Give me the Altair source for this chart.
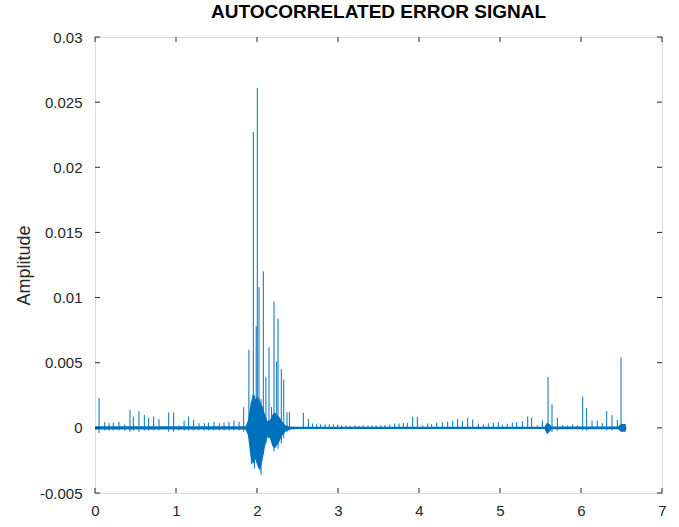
import altair as alt
import pandas as pd

# ---- spikes: time (s), upper value, lower value ----
spike_t = [
    0.05, 0.12, 0.173, 0.226, 0.296, 0.366, 0.432, 0.473, 0.543, 0.609, 0.663,
    0.724, 0.79, 0.91, 0.971, 1.037, 1.10, 1.156, 1.218, 1.284, 1.35, 1.40,
    1.469, 1.535, 1.593, 1.654, 1.716, 1.778, 1.836,
    1.90, 1.93, 1.955, 1.97, 1.99, 2.004, 2.025, 2.05, 2.078, 2.11, 2.148,
    2.18, 2.21, 2.243, 2.26, 2.30, 2.33, 2.37, 2.40,
    2.572, 2.634, 2.687, 2.737, 2.786, 2.84, 2.893, 2.942, 2.996, 3.045, 3.10,
    3.15, 3.21, 3.26, 3.31, 3.37, 3.42, 3.47, 3.53, 3.58, 3.64, 3.70, 3.753,
    3.806, 3.856, 3.922, 3.979, 4.045, 4.107, 4.156, 4.218, 4.288, 4.354,
    4.416, 4.477, 4.535, 4.601, 4.663, 4.733, 4.794, 4.856, 4.918, 4.979,
    5.029, 5.09, 5.152, 5.206, 5.276, 5.342, 5.391, 5.461, 5.523,
    5.593, 5.642, 5.708, 5.774, 5.836, 5.898, 5.955, 6.021, 6.07, 6.136,
    6.201, 6.263, 6.317, 6.383, 6.449, 6.494,
]
spike_hi = [
    0.0023, 0.00044, 0.00036, 0.00041, 0.00046, 0.00026, 0.00138, 0.00087,
    0.00128, 0.0010, 0.00077, 0.00087, 0.00067, 0.00118, 0.00118, 0.00018,
    0.00056, 0.00087, 0.00061, 0.00036, 0.00036, 0.00041, 0.00046, 0.00036,
    0.00041, 0.00046, 0.00056, 0.00046, 0.00159,
    0.0060, 0.0020, 0.0227, 0.0025, 0.0078, 0.0261, 0.0108, 0.0022, 0.0120,
    0.0039, 0.0062, 0.0016, 0.0097, 0.0051, 0.0084, 0.0045, 0.0037, 0.0012,
    0.0012,
    0.00115, 0.00069, 0.00033, 0.00028, 0.00028, 0.00028, 0.00028, 0.00028,
    0.00026, 0.00018, 0.0002, 0.00015, 0.0002, 0.00015, 0.0002, 0.00018,
    0.0002, 0.00018, 0.0002, 0.00022, 0.00025, 0.00033, 0.00033, 0.00038,
    0.00038, 0.00084, 0.00084, 0.00018, 0.00033, 0.00028, 0.00038, 0.00044,
    0.00049, 0.00054, 0.00069, 0.00054, 0.00077, 0.00064, 0.00033, 0.00026,
    0.00033, 0.00038, 0.00044, 0.0002, 0.00031, 0.00041, 0.00044, 0.00051,
    0.00087, 0.00077, 0.00018, 0.00056,
    0.0039, 0.0018, 0.00077, 0.0002, 0.00018, 0.00026, 0.0002, 0.0024,
    0.0015, 0.00056, 0.00056, 0.00036, 0.00128, 0.00097, 0.0006, 0.0054,
]
spike_lo = [
    -0.0004, -0.0002, -0.0002, -0.0002, -0.0002, -0.0002, -0.0003, -0.0002,
    -0.0003, -0.0002, -0.0002, -0.0002, -0.0002, -0.0003, -0.0003, -0.0002,
    -0.0002, -0.0002, -0.0002, -0.0002, -0.0002, -0.0002, -0.0002, -0.0002,
    -0.0002, -0.0002, -0.0002, -0.0002, -0.0003,
    -0.0008, -0.0028, -0.0025, -0.0031, -0.0020, -0.0022, -0.0030, -0.0036,
    -0.0020, -0.0012, -0.0008, -0.0010, -0.0018, -0.0012, -0.0016, -0.0012,
    -0.0008, -0.0003, -0.0002,
    -0.0001, -0.0001, -0.0001, -0.0001, -0.0001, -0.0001, -0.0001, -0.0001,
    -0.0001, -0.0001, -0.0001, -0.0001, -0.0001, -0.0001, -0.0001, -0.0001,
    -0.0001, -0.0001, -0.0001, -0.0001, -0.0001, -0.0001, -0.0001, -0.0001,
    -0.0001, -0.0001, -0.0001, -0.0001, -0.0001, -0.0001, -0.0001, -0.0001,
    -0.0001, -0.0001, -0.0001, -0.0001, -0.0001, -0.0001, -0.0001, -0.0001,
    -0.0001, -0.0001, -0.0001, -0.0001, -0.0001, -0.0001, -0.0001, -0.0001,
    -0.0001, -0.0001, -0.0001, -0.0001,
    -0.0004, -0.0003, -0.0002, -0.0001, -0.0001, -0.0001, -0.0001, -0.0002,
    -0.0002, -0.0001, -0.0001, -0.0001, -0.0002, -0.0002, -0.0001, -0.0002,
]

# ---- dense noise band around zero (envelope) ----
env_t = [0.0, 1.86, 1.89, 1.92, 1.95, 1.98, 2.01, 2.04, 2.07, 2.10, 2.13,
         2.16, 2.19, 2.22, 2.25, 2.28, 2.31, 2.35, 2.40, 2.50, 5.55, 5.58,
         5.61, 5.64, 6.46, 6.49, 6.55, 6.56]
env_hi = [0.00012, 0.00012, 0.0006, 0.0018, 0.0026, 0.0022, 0.0024, 0.0020,
          0.0016, 0.0010, 0.0005, 0.0006, 0.0010, 0.0012, 0.0010, 0.0008,
          0.0005, 0.0002, 0.0001, 0.00008, 0.00008, 0.0004, 0.0003, 0.0001,
          0.0001, 0.0003, 0.0003, 0.0]
env_lo = [-0.00012, -0.00012, -0.0006, -0.0022, -0.0028, -0.0024, -0.0030,
          -0.0033, -0.0024, -0.0014, -0.0007, -0.0008, -0.0014, -0.0016,
          -0.0013, -0.0010, -0.0006, -0.0003, -0.00012, -0.00008, -0.00008,
          -0.0005, -0.0003, -0.0001, -0.0001, -0.0003, -0.0003, 0.0]

x_ticks = [0, 1, 2, 3, 4, 5, 6, 7]
y_ticks = [-0.005, 0.0, 0.005, 0.01, 0.015, 0.02, 0.025, 0.03]

spikes = pd.DataFrame({"t": spike_t, "hi": spike_hi, "lo": spike_lo})
env = pd.DataFrame({"t": env_t, "hi": env_hi, "lo": env_lo})
xt = pd.DataFrame({"v": x_ticks})
yt = pd.DataFrame({"v": y_ticks})

W, H = 567, 456
TL = 5  # inward tick length (px)

BLUE = "#0072BD"
AX = "#262626"
FONT = "Liberation Sans"

xs = alt.Scale(domain=[0, 7], nice=False, zero=False)
ys = alt.Scale(domain=[-0.005, 0.03], nice=False, zero=False)

ylab = "replace(datum.value == 0 ? '0' : format(datum.value, '.3~f'), '\u2212', '-')"

area = alt.Chart(env).mark_area(color=BLUE, opacity=1).encode(
    x=alt.X("t:Q", scale=xs, axis=alt.Axis(
        values=x_ticks, format="d", ticks=False, domain=False, grid=False,
        labelFlush=False, labelPadding=10, labelFontSize=15, labelFont=FONT,
        labelColor=AX, title=None)),
    y=alt.Y("lo:Q", scale=ys, axis=alt.Axis(
        values=y_ticks, labelExpr=ylab, ticks=False, domain=False, grid=False,
        labelFlush=False, labelPadding=13, labelFontSize=15, labelFont=FONT,
        labelColor=AX, title="Amplitude", titleFont=FONT, titleFontSize=18,
        titleFontWeight="normal", titleColor=AX, titlePadding=6)),
    y2="hi:Q",
)

rules = alt.Chart(spikes).mark_rule(color=BLUE, strokeWidth=1).encode(
    x=alt.X("t:Q", scale=xs),
    y=alt.Y("lo:Q", scale=ys),
    y2="hi:Q",
)

tick_bottom = alt.Chart(xt).mark_rule(color=AX, strokeWidth=1).encode(
    x=alt.X("v:Q", scale=xs), y=alt.value(H), y2=alt.value(H - TL))
tick_top = alt.Chart(xt).mark_rule(color=AX, strokeWidth=1).encode(
    x=alt.X("v:Q", scale=xs), y=alt.value(0), y2=alt.value(TL))
tick_left = alt.Chart(yt).mark_rule(color=AX, strokeWidth=1).encode(
    y=alt.Y("v:Q", scale=ys), x=alt.value(0), x2=alt.value(TL))
tick_right = alt.Chart(yt).mark_rule(color=AX, strokeWidth=1).encode(
    y=alt.Y("v:Q", scale=ys), x=alt.value(W), x2=alt.value(W - TL))

chart = alt.layer(
    area, rules, tick_bottom, tick_top, tick_left, tick_right
).properties(
    width=W,
    height=H,
    title=alt.TitleParams("AUTOCORRELATED ERROR SIGNAL", font=FONT,
                          fontSize=19, fontWeight="bold", color="black",
                          anchor="middle", offset=8),
    autosize=alt.AutoSizeParams(type="none"),
    padding={"left": 95, "top": 37, "right": 17, "bottom": 34},
).configure_view(
    stroke=AX, strokeWidth=1
).configure(background="white")

chart.save("out.html", embed_options={"renderer": "svg", "actions": False})
